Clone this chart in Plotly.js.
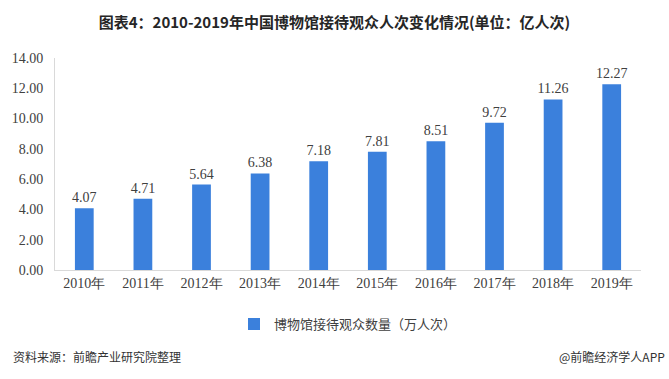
<!DOCTYPE html>
<html><head><meta charset="utf-8">
<script src="https://cdn.plot.ly/plotly-3.0.1.min.js"></script>
<style>html,body{margin:0;padding:0;background:#fff;}#chart{width:669px;height:379px;}</style>
</head><body><div id="chart"></div>
<script>
const categories = ["2010年","2011年","2012年","2013年","2014年","2015年","2016年","2017年","2018年","2019年"];
const visitors = [4.07, 4.71, 5.64, 6.38, 7.18, 7.81, 8.51, 9.72, 11.26, 12.27];
const tickVals = [0,2,4,6,8,10,12,14];
const tickText = ["0.00","2.00","4.00","6.00","8.00","10.00","12.00","14.00"];
const seriesName = "博物馆接待观众数量（万人次）";

const serif = "\"Liberation Serif\", \"Times New Roman\", \"DejaVu Serif\", serif";
const cjk = "Noto Sans CJK SC, sans-serif";
const trace = {
  type: "bar", x: categories, y: visitors, name: seriesName,
  marker: {color: "#3b80dc"}, width: 0.32,
  text: visitors.map(v => v.toFixed(2)), textposition: "outside", constraintext: "none",
  textfont: {family: serif, size: 14, color: "#404040"}, cliponaxis: false,
  showlegend: true
};
const layout = {
  width: 669, height: 379,
  margin: {l: 55, r: 28, t: 58, b: 109},
  paper_bgcolor: "#fff", plot_bgcolor: "#fff",
  title: {text: "<b>图表4：2010-2019年中国博物馆接待观众人次变化情况(单位：亿人次)</b>",
    font: {family: cjk, size: 15, color: "#262626"},
    x: 0.5, xanchor: "center", y: 0.94, yanchor: "middle"},
  xaxis: {tickfont: {family: serif, size: 14, color: "#404040"}, showline: true,
    linecolor: "#d9d9d9", linewidth: 1, ticks: "", fixedrange: true},
  yaxis: {range: [0, 14], tickvals: tickVals, ticktext: tickText, showgrid: false,
    zeroline: false, showline: true, linecolor: "#d9d9d9", linewidth: 1,
    tickfont: {family: serif, size: 14, color: "#404040"}, ticks: "", ticklabelstandoff: 8},
  legend: {orientation: "h", x: 0.5, xanchor: "center", y: -0.255, yanchor: "middle",
    font: {family: cjk, size: 13, color: "#404040"}},
  annotations: [
    {text: "资料来源：前瞻产业研究院整理", xref: "paper", yref: "paper", x: -0.075, y: -0.41,
     xanchor: "left", yanchor: "middle", showarrow: false,
     font: {family: cjk, size: 12, color: "#333"}},
    {text: "@前瞻经济学人APP", xref: "paper", yref: "paper", x: 1.045, y: -0.41,
     xanchor: "right", yanchor: "middle", showarrow: false,
     font: {family: cjk, size: 12, color: "#333"}}
  ]
};
Plotly.newPlot("chart", [trace], layout, {displayModeBar: false, staticPlot: true});
</script></body></html>
